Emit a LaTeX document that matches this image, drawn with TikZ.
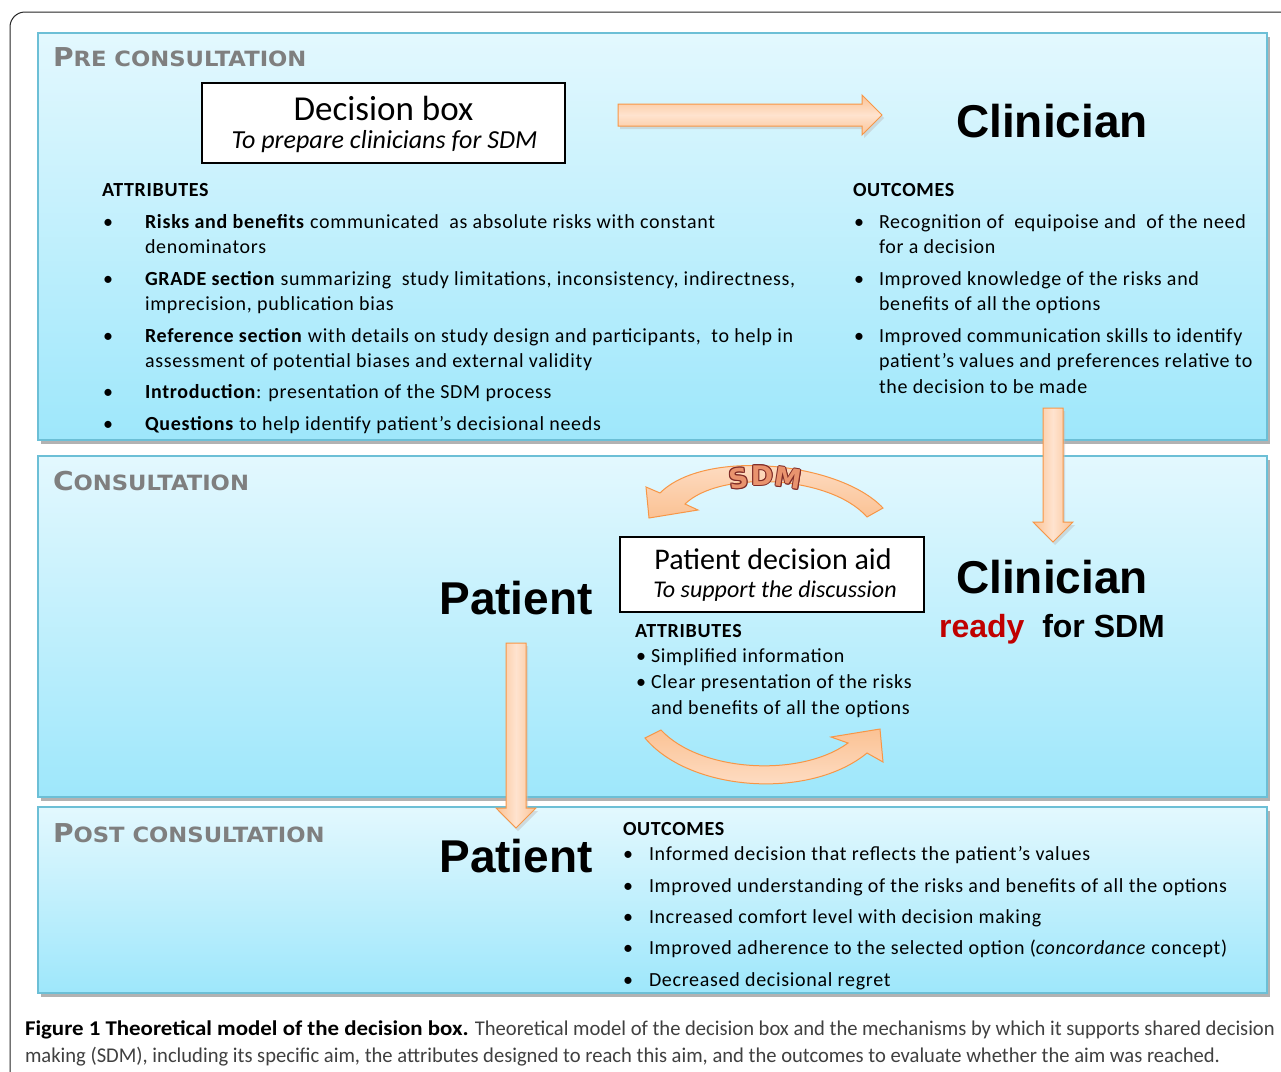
\documentclass[tikz,border=0pt]{standalone}
\usepackage{fontspec}
\setmainfont{Carlito}
\newfontfamily\bodyf{Carlito}[LetterSpace=3.5]
\newfontfamily\arialf{Liberation Sans}
\newfontfamily\verdf{DejaVu Sans}
\newfontfamily\verdwide{DejaVu Sans}[FakeStretch=1.08]
\newfontfamily\capfont{Carlito}[FakeStretch=0.98]
\newfontfamily\capboldf{Carlito}[FakeStretch=1.09]
\definecolor{panelTop}{HTML}{E3F8FE}
\definecolor{panelBot}{HTML}{9EE7FB}
\definecolor{panelEdge}{HTML}{6CBFD6}
\definecolor{headGray}{HTML}{7F7F7F}
\definecolor{arrEdge}{HTML}{F79646}
\definecolor{arrDark}{HTML}{FBC294}
\definecolor{arrLight}{HTML}{FEE3CF}
\definecolor{readyRed}{HTML}{C00000}
\definecolor{sdmRed}{HTML}{7E2A26}
\definecolor{sdmFill}{HTML}{E9936E}
\definecolor{capGray}{HTML}{404040}
\newcommand\fs[1]{\fontsize{#1}{#1}\selectfont}
\newcommand\schead[2]{{\verdwide\bfseries\fs{26}#1\fs{21}#2}}
\tikzset{
  every node/.style={inner sep=0pt, outer sep=0pt},
  txt/.style={anchor=base west, font=\bodyf\fs{20}},
  ctr/.style={anchor=base},
  heading/.style={anchor=base west, text=headGray},
  bigname/.style={anchor=base, font=\arialf\bfseries\fs{46}},
  panel/.style={top color=panelTop, bottom color=panelBot, draw=panelEdge, line width=1.2pt},
  panelshadow/.style={fill=black!30},
  whitebox/.style={draw=black, line width=1.3pt, fill=white},
  blockarrow/.style={draw=arrEdge, line width=1pt, line join=miter},
  arrowshadow/.style={fill=black!25, opacity=0.5},
  sdmletter/.style={anchor=base, font=\verdf\bfseries\fs{27}}
}
\begin{document}
\begin{tikzpicture}[x=1pt,y=-1pt]
\useasboundingbox (0,0) rectangle (1281,1071);
\fill[white] (0,0) rectangle (1281,1071);
\clip (0,0) rectangle (1281,1071);
% outer frame
\draw[line width=1pt, black!85, rounded corners=15pt] (10,1100) -- (10,12) -- (1300,12);

% panels
\fill[panelshadow] (41,37) rectangle (1270,444);
\fill[panelshadow] (41,460) rectangle (1270,801);
\fill[panelshadow] (41,811) rectangle (1270,997);
\path[panel] (38,33) rectangle (1267,440);
\path[panel] (38,456) rectangle (1267,797);
\path[panel] (38,807) rectangle (1267,993);

% headings
\node[heading] (hpre) at (53,66) {\schead{P}{RE CONSULTATION}};
\node[heading] (hcon) at (53,490) {\schead{C}{ONSULTATION}};
\node[heading] (hpost) at (53,842) {\schead{P}{OST CONSULTATION}};

% decision box
\node[whitebox, minimum width=363pt, minimum height=80pt] (dbox) at (383.5,123) {};
\node[ctr, font=\fs{35}] (dboxt) at (383.5,120) {Decision box};
\node[ctr, font=\itshape\fs{26}] (dboxs) at (384.5,148) {To prepare clinicians for SDM};

% right arrow
\fill[arrowshadow] (620,107) -- (864,107) -- (864,98) -- (884,118) -- (864,138) -- (864,129) -- (620,129) -- cycle;
\shade[blockarrow, top color=arrDark, bottom color=arrDark, middle color=arrLight]
  (618,104) -- (862,104) -- (862,95) -- (882,115) -- (862,135) -- (862,126) -- (618,126) -- cycle;

\node[bigname] (clin1) at (1052,137) {Clinician};

% attributes (pre)
\node[txt] (attr1) at (102,196) {\textbf{ATTRIBUTES}};
\node[txt] (b1) at (103,228) {•};
\node[txt] (a1a) at (145,228) {\textbf{Risks and benefits} communicated\ \ as absolute risks with constant};
\node[txt] (a1b) at (145,253) {denominators};
\node[txt] (b2) at (103,285) {•};
\node[txt] (a2a) at (145,285) {\textbf{GRADE section} summarizing\ \ study limitations, inconsistency, indirectness,};
\node[txt] (a2b) at (145,310) {imprecision, publication bias};
\node[txt] (b3) at (103,342) {•};
\node[txt] (a3a) at (145,342) {\textbf{Reference section} with details on study design and participants,\ \ to help in};
\node[txt] (a3b) at (145,367) {assessment of potential biases and external validity};
\node[txt] (b4) at (103,398) {•};
\node[txt] (a4) at (145,398) {\textbf{Introduction}: presentation of the SDM process};
\node[txt] (b5) at (103,430) {•};
\node[txt] (a5) at (145,430) {\textbf{Questions} to help identify patient’s decisional needs};

% outcomes (pre)
\node[txt] (out1) at (853,196) {\textbf{OUTCOMES}};
\node[txt] (c1) at (854,228) {•};
\node[txt] (o1a) at (879,228) {Recognition of\ \ equipoise and\ \ of the need};
\node[txt] (o1b) at (879,253) {for a decision};
\node[txt] (c2) at (854,285) {•};
\node[txt] (o2a) at (879,285) {Improved knowledge of the risks and};
\node[txt] (o2b) at (879,310) {benefits of all the options};
\node[txt] (c3) at (854,342) {•};
\node[txt] (o3a) at (879,342) {Improved communication skills to identify};
\node[txt] (o3b) at (879,367) {patient’s values and preferences relative to};
\node[txt] (o3c) at (879,393) {the decision to be made};

% down arrow (clinician)
\fill[arrowshadow] (1045,411) -- (1065,411) -- (1065,525) -- (1075,525) -- (1055,545) -- (1035,525) -- (1045,525) -- cycle;
\shade[blockarrow, left color=arrDark, right color=arrDark, middle color=arrLight]
  (1043,408) -- (1063,408) -- (1063,522) -- (1073,522) -- (1053,542) -- (1033,522) -- (1043,522) -- cycle;

% consultation
\node[bigname] (clin2) at (1052,593) {Clinician};
\node[anchor=base, font=\arialf\bfseries\fs{32}] (ready) at (1052,637) {\textcolor{readyRed}{ready}\ \ for SDM};
\node[bigname] (pat1) at (516,614) {Patient};

\node[whitebox, minimum width=304pt, minimum height=75pt] (pda) at (772,574.5) {};
\node[ctr, font=\fs{30}] (pdat) at (773,569) {Patient decision aid};
\node[ctr, font=\itshape\fs{24}] (pdas) at (775,597) {To support the discussion};

\node[txt] (attr2) at (635,637) {\textbf{ATTRIBUTES}};
\node[txt] (d1) at (636,662) {•};
\node[txt] (p1) at (651,662) {Simplified information};
\node[txt] (d2) at (636,688) {•};
\node[txt] (p2a) at (651,688) {Clear presentation of the risks};
\node[txt] (p2b) at (651,714) {and benefits of all the options};

% SDM curved arrow (top)
\shade[blockarrow, top color=arrLight, bottom color=arrDark]
  (883,508) .. controls (840,462) and (705,448) .. (660,493) -- (646,487) -- (649,518) -- (698,510) -- (685,504)
  .. controls (720,470) and (830,475) .. (867,517) -- cycle;
% outlined SDM letters
\foreach \dx/\dy [count=\k] in {-1/0,1/0,0/-1,0/1,-0.7/-0.7,0.7/-0.7,-0.7/0.7,0.7/0.7}{
  \node[sdmletter, text=sdmRed, rotate=8] (sSo\k) at (740+\dx,488+\dy) {S};
  \node[sdmletter, text=sdmRed] (sDo\k) at (762+\dx,485+\dy) {D};
  \node[sdmletter, text=sdmRed, rotate=-9] (sMo\k) at (787+\dx,488+\dy) {M};
}
\node[sdmletter, text=sdmFill, rotate=8] (sS) at (740,488) {S};
\node[sdmletter, text=sdmFill] (sD) at (762,485) {D};
\node[sdmletter, text=sdmFill, rotate=-9] (sM) at (787,488) {M};

% bottom curved arrow
\shade[blockarrow, top color=arrDark, bottom color=arrLight]
  (661,730) .. controls (700,772) and (800,778) .. (848,743) -- (831,737) -- (880,729) -- (883,762) -- (867,753)
  .. controls (810,800) and (690,792) .. (645,738) -- cycle;

% down arrow (patient)
\fill[arrowshadow] (508,646) -- (528,646) -- (528,811) -- (538,811) -- (518,831) -- (498,811) -- (508,811) -- cycle;
\shade[blockarrow, left color=arrDark, right color=arrDark, middle color=arrLight]
  (506,643) -- (526,643) -- (526,808) -- (536,808) -- (516,828) -- (496,808) -- (506,808) -- cycle;

% post consultation
\node[bigname] (pat2) at (516,872) {Patient};
\node[txt] (out2) at (623,835) {\textbf{OUTCOMES}};
\node[txt] (e1) at (623,860) {•};
\node[txt] (q1) at (649,860) {Informed decision that reflects the patient’s values};
\node[txt] (e2) at (623,892) {•};
\node[txt] (q2) at (649,892) {Improved understanding of the risks and benefits of all the options};
\node[txt] (e3) at (623,923) {•};
\node[txt] (q3) at (649,923) {Increased comfort level with decision making};
\node[txt] (e4) at (623,954) {•};
\node[txt] (q4) at (649,954) {Improved adherence to the selected option (\textit{concordance} concept)};
\node[txt] (e5) at (623,986) {•};
\node[txt] (q5) at (649,986) {Decreased decisional regret};

% caption
\node[anchor=base west, font=\capfont\fs{21}] (cap1) at (25,1035) {{\capboldf\bfseries Figure 1 Theoretical model of the decision box.} \textcolor{capGray}{Theoretical model of the decision box and the mechanisms by which it supports shared decision}};
\node[anchor=base west, font=\capfont\fs{21}, text=capGray] (cap2) at (25,1062) {making (SDM), including its specific aim, the attributes designed to reach this aim, and the outcomes to evaluate whether the aim was reached.};
\end{tikzpicture}
\end{document}
